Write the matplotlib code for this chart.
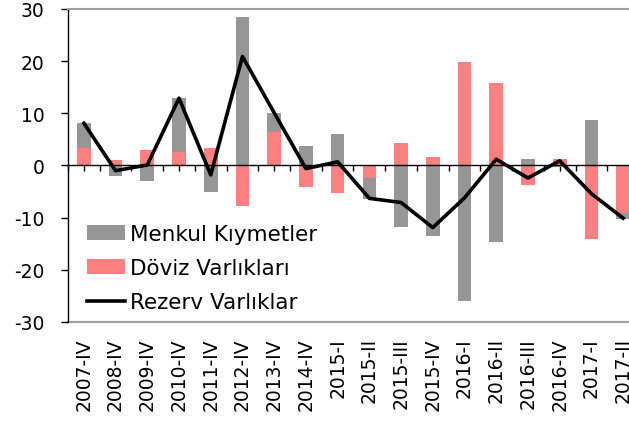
import numpy as np
import matplotlib
matplotlib.use("Agg")
import matplotlib.pyplot as plt

# Dönemler ve seriler (milyar $)
donemler = ["2007-IV", "2008-IV", "2009-IV", "2010-IV", "2011-IV", "2012-IV",
            "2013-IV", "2014-IV", "2015-I", "2015-II", "2015-III", "2015-IV",
            "2016-I", "2016-II", "2016-III", "2016-IV", "2017-I", "2017-II"]
doviz = [3.3, 1.0, 3.0, 2.6, 3.35, -7.7, 6.4, -4.2, -5.3, -2.4, 4.4, 1.7,
         19.8, 15.9, -3.7, 1.2, -14.0, -9.2]
menkul = [4.8, -2.1, -2.9, 10.3, -5.1, 28.5, 3.7, 3.7, 6.1, -4.0, -11.7, -13.5,
          -25.9, -14.7, 1.25, -0.3, 8.7, -1.1]
rezerv = [8.1, -1.0, 0.1, 12.9, -1.8, 20.9, 10.1, -0.6, 0.7, -6.3, -7.1, -11.9,
          -6.2, 1.2, -2.4, 0.9, -5.4, -10.1]

plt.rcParams['font.family'] = ['DejaVu Sans']
plt.rcParams['axes.unicode_minus'] = False

x = np.arange(len(donemler))
d = np.array(doviz)
m = np.array(menkul)
# menkul, doviz ile ayni isaretteyse onun ustune yigilir
alt = np.where(np.sign(m) == np.sign(d), d, 0)

fig = plt.figure(figsize=(6.29, 4.27), dpi=100)
ax = fig.add_axes([0.1081, 0.2436, 0.9078, 0.733])

w = 0.43
b_dov = ax.bar(x, d, width=w, color="#FF8080", zorder=2)
b_men = ax.bar(x, m, width=w, bottom=alt, color="#969696", zorder=2)
ln, = ax.plot(x, rezerv, color="black", lw=2.6, zorder=3)

ax.set_xlim(-0.5, len(donemler) - 0.5)
ax.set_ylim(-30, 30)
ax.set_yticks(np.arange(-30, 31, 10))

# sifir cizgisi ve tikleri
ax.spines['bottom'].set_position(('data', 0))
ax.spines['bottom'].set_color("black")
ax.spines['bottom'].set_linewidth(1.0)
ax.set_xticks(np.arange(-0.5, len(donemler), 0.5))
ax.tick_params(axis='x', direction='out', length=4.5, width=1, labelbottom=False)
ax.spines['top'].set_color("#A0A0A0")
ax.spines['top'].set_linewidth(1.5)
ax.spines['right'].set_visible(False)
ax.spines['left'].set_linewidth(1.0)
ax.tick_params(axis='y', direction='out', length=5, width=1, pad=12, labelsize=13.5)

# alt etiketler
sec = ax.secondary_xaxis('bottom')
sec.set_xticks(x)
sec.set_xticklabels(donemler, rotation=90, fontsize=13.5)
sec.tick_params(length=0, pad=11)
sec.spines['bottom'].set_color("#A0A0A0")
sec.spines['bottom'].set_linewidth(1.5)

ax.legend([b_men, b_dov, ln], ["Menkul Kıymetler", "Döviz Varlıkları", "Rezerv Varlıklar"],
          loc='lower left', bbox_to_anchor=(0.01, -0.01), frameon=False, fontsize=15.5,
          handlelength=1.8, handleheight=0.7, handletextpad=0.2,
          labelspacing=0.65, borderaxespad=0.2)

fig.savefig("out.png", dpi=100)
